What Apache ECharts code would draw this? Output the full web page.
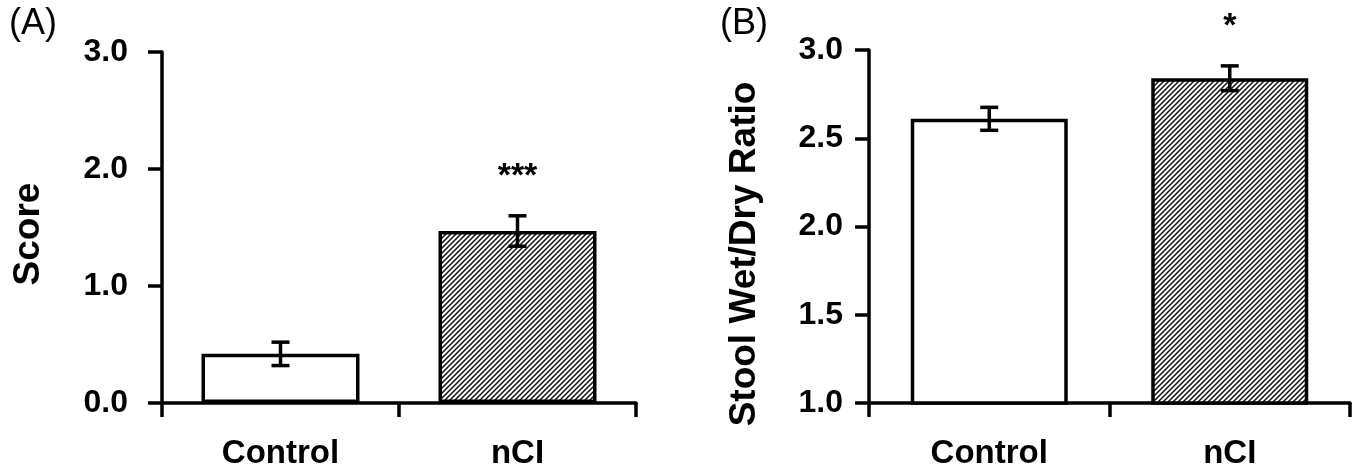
<html lang="en">
<head>
    <meta charset="UTF-8">
    <title>Score and stool wet/dry ratio</title>
    <script src="https://cdn.jsdelivr.net/npm/echarts@6/dist/echarts.min.js"></script>
    <style>
        body { margin: 0; background: #fff; }
        #main { width: 1363px; height: 470px; }
    </style>
</head>
<body>
<div id="main"></div>
<script type="text/javascript">
    // data
    var categories = ['Control', 'nCI'];
    var scoreMean = [0.42, 1.47];
    var scoreErr = [0.10, 0.13];
    var scoreSig = ['', '***'];
    var ratioMean = [2.61, 2.84];
    var ratioErr = [0.065, 0.07];
    var ratioSig = ['', '*'];
    var scoreTicks = [0, 3, 1];      // min, max, interval
    var ratioTicks = [1, 3, 0.5];

    var FONT = "'Liberation Sans', Arial, sans-serif";

    // diagonal hatch for the nCI bars
    function makeHatch() {
        var c = document.createElement('canvas');
        c.width = 5;
        c.height = 5;
        var ctx = c.getContext('2d');
        ctx.fillStyle = '#fff';
        ctx.fillRect(0, 0, 5, 5);
        ctx.strokeStyle = '#111';
        ctx.lineWidth = 1.5;
        ctx.beginPath();
        ctx.moveTo(-1, 6); ctx.lineTo(6, -1);
        ctx.moveTo(-1, 1); ctx.lineTo(1, -1);
        ctx.moveTo(4, 6); ctx.lineTo(6, 4);
        ctx.stroke();
        return c;
    }
    var hatch = {image: makeHatch(), repeat: 'repeat'};

    function barData(values) {
        return values.map(function (v, i) {
            return {
                value: v,
                itemStyle: {color: i === 0 ? '#fff' : hatch}
            };
        });
    }

    function errData(means, errs) {
        return means.map(function (m, i) {
            return [i, m, errs[i]];
        });
    }

    function renderErr(params, api) {
        var x = api.value(0);
        var m = api.value(1);
        var e = api.value(2);
        var top = api.coord([x, m + e]);
        var bot = api.coord([x, m - e]);
        var hw = 9;
        var st = {stroke: '#000', lineWidth: 3.5};
        var kids = [
            {type: 'line', shape: {x1: top[0], y1: top[1], x2: bot[0], y2: bot[1]}, style: st},
            {type: 'line', shape: {x1: top[0] - hw, y1: top[1], x2: top[0] + hw, y2: top[1]}, style: st},
            {type: 'line', shape: {x1: bot[0] - hw, y1: bot[1], x2: bot[0] + hw, y2: bot[1]}, style: st}
        ];
        var label = params.seriesIndex === 2 ? scoreSig[params.dataIndex] : ratioSig[params.dataIndex];
        if (label) {
            kids.push({
                type: 'text',
                x: top[0],
                y: top[1] - 22,
                style: {
                    text: label,
                    font: 'bold 34px ' + FONT,
                    fill: '#000',
                    align: 'center',
                    verticalAlign: 'bottom'
                }
            });
        }
        return {type: 'group', children: kids};
    }

    function xAxisOpt(gi) {
        return {
            type: 'category',
            gridIndex: gi,
            data: categories,
            axisLine: {lineStyle: {color: '#000', width: 3.5}},
            axisTick: {show: true, length: 14, lineStyle: {color: '#000', width: 3.5}},
            axisLabel: {color: '#000', fontSize: 33, fontWeight: 'bold', fontFamily: FONT, margin: 34}
        };
    }

    function yAxisOpt(gi, ticks, margin) {
        return {
            type: 'value',
            gridIndex: gi,
            min: ticks[0],
            max: ticks[1],
            interval: ticks[2],
            splitLine: {show: false},
            axisLine: {show: true, lineStyle: {color: '#000', width: 3.5}},
            axisTick: {show: true, length: 14, lineStyle: {color: '#000', width: 3.5}},
            axisLabel: {
                color: '#000', fontSize: 32, fontWeight: 'bold', fontFamily: FONT, margin: margin,
                formatter: function (v) { return v.toFixed(1); }
            }
        };
    }

    var myChart = echarts.init(document.getElementById('main'));

    var option = {
        animation: false,
        backgroundColor: '#fff',
        title: [
            {text: '(A)', left: 9, top: 6, padding: 0,
                textStyle: {fontSize: 36, fontWeight: 'normal', color: '#000', fontFamily: FONT}},
            {text: '(B)', left: 720, top: 6, padding: 0,
                textStyle: {fontSize: 36, fontWeight: 'normal', color: '#000', fontFamily: FONT}}
        ],
        graphic: [
            {type: 'text', x: 29, y: 234, rotation: Math.PI / 2,
                style: {text: 'Score', font: 'bold 37px ' + FONT, fill: '#000',
                    align: 'center', verticalAlign: 'middle'}},
            {type: 'text', x: 745, y: 254, rotation: Math.PI / 2,
                style: {text: 'Stool Wet/Dry Ratio', font: 'bold 37px ' + FONT, fill: '#000',
                    align: 'center', verticalAlign: 'middle'}}
        ],
        grid: [
            {left: 162, top: 52, width: 474, height: 352},
            {left: 869, top: 50, width: 481, height: 355}
        ],
        xAxis: [xAxisOpt(0), xAxisOpt(1)],
        yAxis: [
            yAxisOpt(0, scoreTicks, 34),
            yAxisOpt(1, ratioTicks, 26)
        ],
        series: [
            {
                type: 'bar', xAxisIndex: 0, yAxisIndex: 0, barWidth: 158,
                itemStyle: {borderColor: '#000', borderWidth: 3.5},
                data: barData(scoreMean)
            },
            {
                type: 'bar', xAxisIndex: 1, yAxisIndex: 1, barWidth: 157,
                itemStyle: {borderColor: '#000', borderWidth: 3.5},
                data: barData(ratioMean)
            },
            {
                type: 'custom', xAxisIndex: 0, yAxisIndex: 0, z: 5,
                renderItem: renderErr,
                data: errData(scoreMean, scoreErr)
            },
            {
                type: 'custom', xAxisIndex: 1, yAxisIndex: 1, z: 5,
                renderItem: renderErr,
                data: errData(ratioMean, ratioErr)
            }
        ]
    };

    myChart.setOption(option);
</script>
</body>
</html>
